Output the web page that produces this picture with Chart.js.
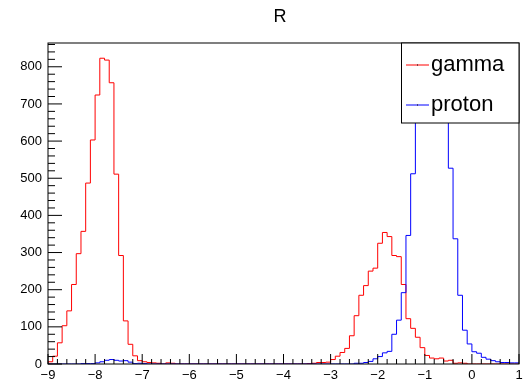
<!DOCTYPE html>
<html>
<head>
<meta charset="utf-8">
<script src="https://cdn.jsdelivr.net/npm/chart.js@4.4.1/dist/chart.umd.min.js"></script>
<style>
  html, body { margin: 0; padding: 0; background: #fff; }
  #wrap { width: 529px; height: 380px; }
</style>
</head>
<body>
<div id="wrap"><canvas id="histCanvas"></canvas></div>
<script>
// 100 bins of width 0.1 from -9 to 1
const binLow = -9;
const binWidth = 0.1;

const gammaCounts = [
  2, 6, 21, 57, 103, 143, 214, 297, 357, 487,
  603, 724, 823, 818, 757, 511, 292, 116, 53, 22,
  9, 6, 4, 3, 2, 0, 3, 2, 0, 0,
  0, 0, 0, 0, 0, 0, 0, 0, 0, 0,
  0, 0, 0, 0, 0, 0, 0, 0, 0, 0,
  0, 0, 0, 0, 0, 0, 1, 2, 4, 4,
  5, 12, 21, 31, 42, 76, 130, 185, 211, 250,
  258, 325, 354, 343, 292, 289, 214, 122, 96, 72,
  44, 23, 16, 14, 16, 8, 10, 2, 3, 2,
  0, 0, 0, 0, 0, 0, 0, 0, 0, 0
];

const protonCounts = [
  0, 0, 0, 0, 0, 0, 0, 0, 1, 1,
  1, 3, 6, 10, 12, 10, 8, 9, 5, 1,
  2, 1, 0, 0, 0, 0, 0, 0, 0, 0,
  0, 0, 0, 0, 0, 0, 0, 0, 0, 0,
  0, 0, 0, 0, 0, 0, 0, 0, 0, 0,
  0, 0, 0, 0, 0, 0, 0, 0, 0, 0,
  0, 0, 0, 0, 0, 0, 2, 2, 4, 7,
  14, 20, 30, 34, 80, 118, 192, 346, 512, 680,
  790, 850, 860, 820, 740, 660, 527, 337, 185, 91,
  54, 33, 29, 18, 13, 9, 6, 4, 4, 3
];

const seriesNames = ["gamma", "proton"];
const seriesColors = ["#ff0000", "#0000ff"];
const histTitle = "R";

const FONT = "'Liberation Sans', Arial, Helvetica, sans-serif";

// bin edges -> points for a stepped line
function histPoints(counts) {
  const pts = counts.map((c, i) => ({ x: binLow + i * binWidth, y: c }));
  pts.push({ x: binLow + counts.length * binWidth, y: counts[counts.length - 1] });
  return pts;
}

function minusSign(v) {
  return v < 0 ? "\u2212" + Math.abs(v) : String(v);
}

// box around the plot plus inward ticks, ROOT style
const frameTicks = {
  id: "frameTicks",
  afterDatasetsDraw(chart) {
    const { ctx, chartArea: a, scales } = chart;
    const xs = scales.x, ys = scales.y;
    ctx.save();
    ctx.strokeStyle = "#000";
    ctx.lineWidth = 1;
    ctx.beginPath();
    for (let k = 0; k <= 50; k++) {
      const px = xs.getPixelForValue(xs.min + k * 0.2);
      const len = k % 5 === 0 ? 10 : 5;
      ctx.moveTo(px, a.bottom);
      ctx.lineTo(px, a.bottom - len);
    }
    for (let v = 0; v <= ys.max; v += 20) {
      const py = ys.getPixelForValue(v);
      const len = v % 100 === 0 ? 14 : 7;
      ctx.moveTo(a.left, py);
      ctx.lineTo(a.left + len, py);
    }
    ctx.stroke();
    ctx.strokeRect(a.left, a.top, a.right - a.left, a.bottom - a.top);
    ctx.restore();
  }
};

// title and legend box in the upper right corner
const titleLegend = {
  id: "titleLegend",
  afterDraw(chart) {
    const { ctx, chartArea: a } = chart;
    ctx.save();
    ctx.fillStyle = "#000";
    ctx.font = "18px " + FONT;
    ctx.textAlign = "center";
    ctx.textBaseline = "middle";
    ctx.fillText(histTitle, 280, 17);

    const bx = 401, by = a.top, bw = a.right - 401, bh = 80;
    ctx.fillStyle = "#fff";
    ctx.fillRect(bx, by, bw, bh);
    ctx.strokeStyle = "#000";
    ctx.lineWidth = 1;
    ctx.strokeRect(bx + 0.5, by, bw - 0.5, bh);

    ctx.font = "22px " + FONT;
    ctx.textAlign = "left";
    ctx.textBaseline = "alphabetic";
    chart.data.datasets.forEach((ds, i) => {
      const rowY = by + 22 + i * 40;
      ctx.strokeStyle = ds.borderColor;
      ctx.beginPath();
      ctx.moveTo(406, rowY);
      ctx.lineTo(429, rowY);
      ctx.stroke();
      ctx.fillStyle = "#000";
      ctx.fillRect(417, rowY - 0.5, 1, 1);
      ctx.fillText(ds.label, 431, rowY + 6);
    });
    ctx.restore();
  }
};

const ctx = document.getElementById("histCanvas").getContext("2d");

new Chart(ctx, {
  type: "line",
  data: {
    datasets: [
      {
        label: seriesNames[0],
        data: histPoints(gammaCounts),
        borderColor: seriesColors[0],
        borderWidth: 1,
        stepped: "after",
        pointRadius: 0,
        fill: false,
        order: 2
      },
      {
        label: seriesNames[1],
        data: histPoints(protonCounts),
        borderColor: seriesColors[1],
        borderWidth: 1,
        stepped: "after",
        pointRadius: 0,
        fill: false,
        order: 1
      }
    ]
  },
  options: {
    responsive: true,
    maintainAspectRatio: false,
    animation: false,
    layout: { padding: { top: 43, right: 10, left: 0, bottom: 0 } },
    plugins: {
      legend: { display: false },
      title: { display: false },
      tooltip: { enabled: false }
    },
    scales: {
      x: {
        type: "linear",
        min: -9,
        max: 1,
        grid: { display: false, drawTicks: false, tickLength: 0 },
        border: { display: false },
        ticks: {
          stepSize: 1,
          autoSkip: false,
          maxRotation: 0,
          padding: 4,
          color: "#000",
          font: { family: FONT, size: 13 },
          callback: (v) => minusSign(v)
        },
        afterFit(scale) { scale.height = 16; }
      },
      y: {
        min: 0,
        max: 864,
        grid: { display: false, drawTicks: false, tickLength: 0 },
        border: { display: false },
        ticks: {
          stepSize: 100,
          padding: 6,
          color: "#000",
          font: { family: FONT, size: 13 },
          callback: (v) => (v % 100 === 0 ? String(v) : "")
        },
        afterFit(scale) { scale.width = 48; }
      }
    }
  },
  plugins: [frameTicks, titleLegend]
});
</script>
</body>
</html>
